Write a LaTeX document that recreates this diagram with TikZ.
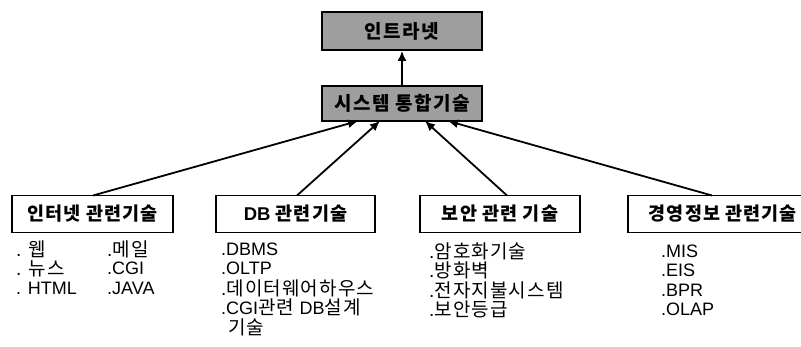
\documentclass[tikz,border=0pt]{standalone}
\usepackage{fontspec}
\setmainfont{Noto Sans CJK KR}
\newfontfamily\kr{Noto Sans CJK KR}[LetterSpace=6]
\newfontfamily\kri{Noto Sans CJK KR}[LetterSpace=6]
\newfontfamily\krb{Noto Sans CJK KR}[LetterSpace=8]
\newfontfamily\lat{Liberation Sans}
\usetikzlibrary{arrows.meta}
\begin{document}
\begin{tikzpicture}[x=1pt,y=-1pt,
  topbox/.style={draw=black,line width=1.8pt,fill=black!38,minimum width=160pt,inner sep=0pt,font=\krb\bfseries\fontsize{19}{21}\selectfont},
  catbox/.style={draw=black,line width=1.7pt,fill=white,inner sep=0pt,font=\kr\bfseries\fontsize{18.5}{20}\selectfont},
  item/.style={anchor=west,inner sep=0pt,font=\kri\fontsize{19}{21}\selectfont},
  arr/.style={line width=1.8pt,-{Latex[length=10pt,width=9pt]}}]
\useasboundingbox (0,0) rectangle (801,347);
% top boxes
\node[topbox,minimum height=38pt] (intra) at (402,31) {인트라넷};
\node[topbox,minimum height=35pt] (sys) at (402,103.5) {시스템 통합기술};
% category boxes
\node[catbox,minimum width=161pt,minimum height=37pt] (inet) at (92.5,214) {인터넷 관련기술};
\node[catbox,minimum width=159pt,minimum height=37pt] (db) at (295.5,214) {{\lat\bfseries DB} 관련기술};
\node[catbox,minimum width=160pt,minimum height=37pt] (sec) at (500,214) {보안 관련 기술};
\node[catbox,minimum width=190pt,minimum height=37pt,anchor=west] (mgmt) at (627,214) {경영정보 관련기술\hspace{8pt}};
% anchor coordinates
\coordinate (h1) at (358,121);
\coordinate (h2) at (380,121);
\coordinate (h3) at (425,121);
\coordinate (h4) at (448,121);
\coordinate (t1) at (93,195.5);
\coordinate (t2) at (297,195.5);
\coordinate (t3) at (507,195.5);
\coordinate (t4) at (712,195.5);
% arrows
\draw[arr] (sys) -- (intra);
\draw[arr] (t1) -- (h1);
\draw[arr] (t2) -- (h2);
\draw[arr] (t3) -- (h3);
\draw[arr] (t4) -- (h4);
% lists: internet
\node[item] (i1) at (16,249) {{\lat .} 웹};
\node[item] (i2) at (16,268.5) {{\lat .} 뉴스};
\node[item] (i3) at (16,288) {\lat\fontsize{18}{20}\selectfont . HTML};
\node[item] (i4) at (107,249) {{\lat .}메일};
\node[item] (i5) at (107,268.5) {\lat\fontsize{18}{20}\selectfont .CGI};
\node[item] (i6) at (107,288) {\lat\fontsize{18}{20}\selectfont .JAVA};
% DB
\node[item] (d1) at (221,249) {\lat\fontsize{18}{20}\selectfont .DBMS};
\node[item] (d2) at (221,268.5) {\lat\fontsize{18}{20}\selectfont .OLTP};
\node[item] (d3) at (221,288) {{\lat .}데이터웨어하우스};
\node[item] (d4) at (221,307.5) {{\lat\fontsize{18}{20}\selectfont .CGI}관련 {\lat\fontsize{18}{20}\selectfont DB}설계};
\node[item] (d5) at (228,327) {기술};
% security
\node[item] (s1) at (429,251) {{\lat .}암호화기술};
\node[item] (s2) at (429,270.5) {{\lat .}방화벽};
\node[item] (s3) at (429,290) {{\lat .}전자지불시스템};
\node[item] (s4) at (429,309.5) {{\lat .}보안등급};
% management
\node[item] (m1) at (661,251) {\lat\fontsize{18}{20}\selectfont .MIS};
\node[item] (m2) at (661,270.5) {\lat\fontsize{18}{20}\selectfont .EIS};
\node[item] (m3) at (661,290) {\lat\fontsize{18}{20}\selectfont .BPR};
\node[item] (m4) at (661,309.5) {\lat\fontsize{18}{20}\selectfont .OLAP};
\end{tikzpicture}
\end{document}
